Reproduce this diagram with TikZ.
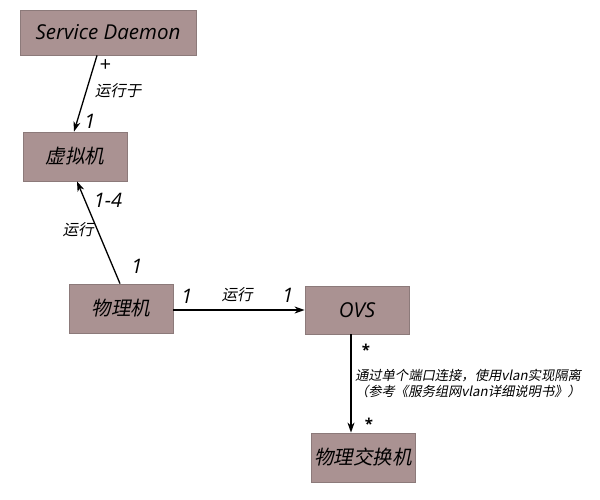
\documentclass[tikz,border=0pt]{standalone}
\usepackage{fontspec}
\setmainfont{Open Sans}
\newfontfamily\cjk{Noto Sans CJK SC}[FakeSlant=0.2]
\usetikzlibrary{arrows.meta}
\definecolor{boxfill}{RGB}{170,146,146}
\definecolor{boxline}{RGB}{140,122,122}
\tikzset{
  box/.style={draw=boxline, fill=boxfill, line width=0.8pt, inner sep=0pt},
  boxtext/.style={font=\fontsize{20.5}{22}\selectfont\itshape},
  boxcjk/.style={font=\fontsize{19.5}{22}\selectfont\cjk},
  link/.style={line width=1.3pt, -{Stealth[length=10pt,width=7pt,inset=3pt]}},
  mult/.style={font=\fontsize{20}{22}\selectfont\itshape},
  lbl/.style={font=\fontsize{15.5}{17}\selectfont\cjk},
  star/.style={font=\fontsize{15}{15}\selectfont\bfseries}
}
\begin{document}
\begin{tikzpicture}[x=1pt,y=-1pt]
\useasboundingbox (0,0) rectangle (600,499);

\node[box, boxtext, minimum width=176pt, minimum height=45pt] (sd) at (108,32.5) {Service Daemon};
\node[box, boxcjk, minimum width=104pt, minimum height=49pt] (vm) at (75,156.5) {虚拟机};
\node[box, boxcjk, minimum width=104pt, minimum height=49pt] (pm) at (121,308.5) {物理机};
\node[box, boxtext, minimum width=104pt, minimum height=48pt] (ovs) at (357,310) {OVS};
\node[box, boxcjk, minimum width=104pt, minimum height=49pt] (sw) at (363,457.5) {物理交换机};

\draw[link] ([xshift=-11pt]sd.south) -- ([xshift=-1pt]vm.north);
\draw[link] ([xshift=-1pt]pm.north) -- ([xshift=2pt]vm.south);
\draw[link] ([yshift=-1.5pt]pm.east) -- ([yshift=0pt]ovs.west);
\draw[link] ([xshift=-6pt]ovs.south) -- ([xshift=-6pt]ovs.south |- sw.north);

\node[mult] (p1) at (105,66) {+};
\node[lbl] (r1) at (118,91) {运行于};
\node[mult] (m1) at (90,121) {1};

\node[mult] (m2) at (108,200) {1-4};
\node[lbl] (r2) at (78,230) {运行};
\node[mult] (m3) at (137,266) {1};

\node[mult] (m4) at (187,296) {1};
\node[lbl] (r3) at (237,295) {运行};
\node[mult] (m5) at (288,295) {1};

\node[star] (s1) at (366,350) {*};
\node[font=\fontsize{13.3}{16}\selectfont\cjk, align=center] (r4) at (468,383) {通过单个端口连接，使用vlan实现隔离\\（参考《服务组网vlan详细说明书》）};
\node[star] (s2) at (369,424) {*};
\end{tikzpicture}
\end{document}
